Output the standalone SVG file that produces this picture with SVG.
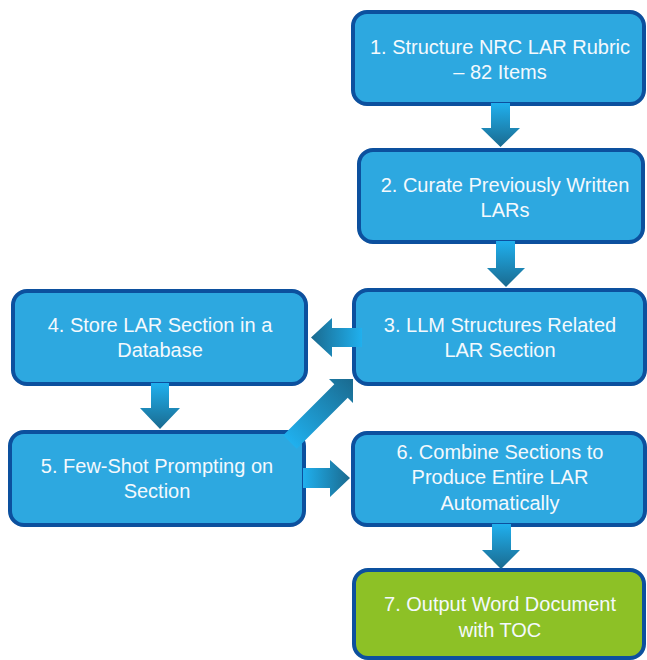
<svg xmlns="http://www.w3.org/2000/svg" width="647" height="660" viewBox="0 0 647 660">
  <defs>
    <linearGradient id="gDown" x1="0" y1="0" x2="0" y2="1">
      <stop offset="0" stop-color="#20B0EE"/>
      <stop offset="1" stop-color="#1A6A8F"/>
    </linearGradient>
    <linearGradient id="gLeft" x1="1" y1="0" x2="0" y2="0">
      <stop offset="0" stop-color="#20B0EE"/>
      <stop offset="1" stop-color="#1A6A8F"/>
    </linearGradient>
    <linearGradient id="gRight" x1="0" y1="0" x2="1" y2="0">
      <stop offset="0" stop-color="#20B0EE"/>
      <stop offset="1" stop-color="#1A6A8F"/>
    </linearGradient>
    <linearGradient id="gDiag" gradientUnits="userSpaceOnUse" x1="290" y1="442" x2="353" y2="379">
      <stop offset="0" stop-color="#20B0EE"/>
      <stop offset="1" stop-color="#1A6A8F"/>
    </linearGradient>
    <style>
      .box { fill: #2DA8E0; stroke: #0C509E; stroke-width: 4; }
      .box.green { fill: #8DC126; }
      .lbl { font-family: "Liberation Sans", Arial, sans-serif; font-size: 20px; fill: #F4F9FD; text-anchor: middle; }
    </style>
  </defs>

  <g id="node1">
    <rect class="box" x="353" y="12" width="291" height="92" rx="14"/>
    <text class="lbl" x="500" y="54">1. Structure NRC LAR Rubric</text>
    <text class="lbl" x="500" y="79">– 82 Items</text>
  </g>

  <g id="node2">
    <rect class="box" x="359" y="150" width="284" height="92" rx="14"/>
    <text class="lbl" x="505" y="192">2. Curate Previously Written</text>
    <text class="lbl" x="505" y="217">LARs</text>
  </g>

  <g id="node3">
    <rect class="box" x="354" y="290" width="291" height="94" rx="14"/>
    <text class="lbl" x="500" y="332">3. LLM Structures Related</text>
    <text class="lbl" x="500" y="357">LAR Section</text>
  </g>

  <g id="node4">
    <rect class="box" x="13" y="291" width="293" height="93" rx="14"/>
    <text class="lbl" x="160" y="332">4. Store LAR Section in a</text>
    <text class="lbl" x="160" y="357">Database</text>
  </g>

  <g id="node5">
    <rect class="box" x="10" y="432" width="294" height="93" rx="14"/>
    <text class="lbl" x="157" y="473">5. Few-Shot Prompting on</text>
    <text class="lbl" x="157" y="498">Section</text>
  </g>

  <g id="node6">
    <rect class="box" x="353" y="433" width="292" height="92" rx="14"/>
    <text class="lbl" x="500" y="459">6. Combine Sections to</text>
    <text class="lbl" x="500" y="484">Produce Entire LAR</text>
    <text class="lbl" x="500" y="510">Automatically</text>
  </g>

  <g id="node7">
    <rect class="box green" x="354" y="570" width="290" height="88" rx="14"/>
    <text class="lbl" x="500" y="611">7. Output Word Document</text>
    <text class="lbl" x="500" y="637">with TOC</text>
  </g>

  <g id="connectors">
    <!-- 1 to 2 -->
    <polygon fill="url(#gDown)" points="491,103 510,103 510,128 520,128 500.5,147 481,128 491,128"/>
    <!-- 2 to 3 -->
    <polygon fill="url(#gDown)" points="496,241 515,241 515,268 525,268 506,287 487,268 496,268"/>
    <!-- 3 to 4 -->
    <polygon fill="url(#gLeft)" points="362,328 362,347 332,347 332,357 311,337.5 332,318 332,328"/>
    <!-- 4 to 5 -->
    <polygon fill="url(#gDown)" points="151,383 169,383 169,408 180,408 160,429 140,408 151,408"/>
    <!-- 5 to 3 -->
    <polygon fill="url(#gDiag)" points="283.3,435.3 334.3,384.3 329,379 353,379 353,403 347.7,397.7 296.7,448.7"/>
    <!-- 5 to 6 -->
    <polygon fill="url(#gRight)" points="303,468 330,468 330,460 350,478 330,497 330,488 303,488"/>
    <!-- 6 to 7 -->
    <polygon fill="url(#gDown)" points="492,524 511,524 511,550 520,550 501,569 482,550 492,550"/>
  </g>
</svg>
